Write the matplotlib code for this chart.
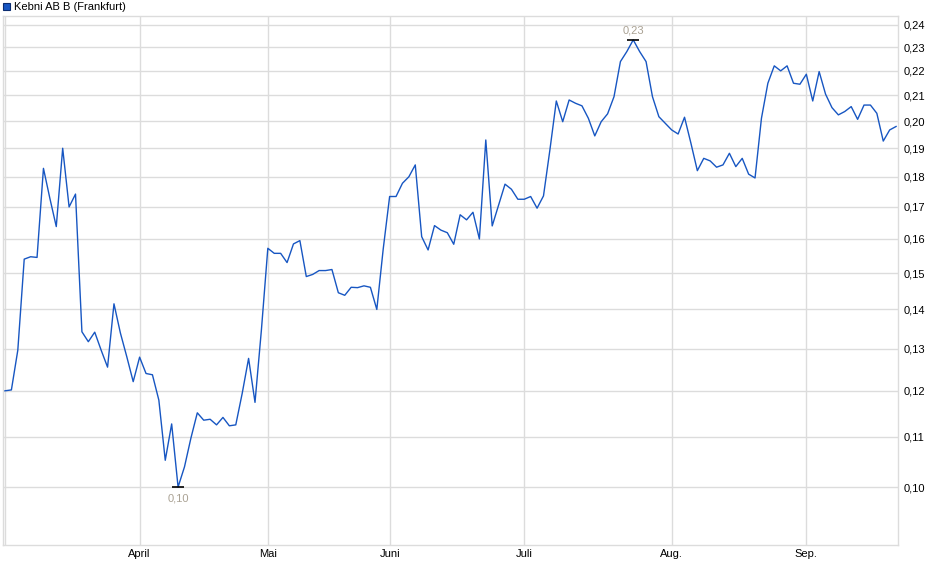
import matplotlib
matplotlib.use("Agg")
import matplotlib.pyplot as plt
from matplotlib.patches import Rectangle
from matplotlib.ticker import FixedLocator, NullLocator, FuncFormatter

plt.rcParams['font.family'] = ['Liberation Sans', 'DejaVu Sans']

# Schlusskurse (EUR), ein Wert pro Handelstag
prices = [
    0.1200, 0.1202, 0.1296, 0.1540, 0.1547, 0.1545, 0.1829, 0.1728, 0.1638, 0.1900,
    0.1700, 0.1742, 0.1342, 0.1317, 0.1341, 0.1296, 0.1255, 0.1415, 0.1339, 0.1280,
    0.1221, 0.1279, 0.1240, 0.1237, 0.1179, 0.1052, 0.1127, 0.1000, 0.1039, 0.1097,
    0.1151, 0.1135, 0.1137, 0.1125, 0.1141, 0.1123, 0.1125, 0.1194, 0.1276, 0.1174,
    0.1347, 0.1572, 0.1557, 0.1557, 0.1530, 0.1585, 0.1595, 0.1490, 0.1496, 0.1507,
    0.1507, 0.1510, 0.1445, 0.1438, 0.1460, 0.1459, 0.1464, 0.1460, 0.1400, 0.1570,
    0.1734, 0.1734, 0.1778, 0.1800, 0.1841, 0.1607, 0.1567, 0.1641, 0.1627, 0.1619,
    0.1584, 0.1675, 0.1659, 0.1683, 0.1600, 0.1930, 0.1640, 0.1706, 0.1775, 0.1758,
    0.1725, 0.1725, 0.1734, 0.1696, 0.1736, 0.1894, 0.2078, 0.1998, 0.2082, 0.2069,
    0.2059, 0.2011, 0.1945, 0.1998, 0.2028, 0.2095, 0.2239, 0.2282, 0.2333, 0.2282,
    0.2239, 0.2095, 0.2017, 0.1992, 0.1967, 0.1952, 0.2015, 0.1918, 0.1821, 0.1864,
    0.1855, 0.1833, 0.1841, 0.1882, 0.1835, 0.1864, 0.1809, 0.1796, 0.2011, 0.2149,
    0.2221, 0.2200, 0.2221, 0.2149, 0.2145, 0.2186, 0.2078, 0.2197, 0.2105, 0.2052,
    0.2024, 0.2037, 0.2056, 0.2007, 0.2062, 0.2062, 0.2030, 0.1926, 0.1967, 0.1980,
]
days = list(range(len(prices)))

# Monatsanfaenge (Index des Handelstags)
month_pos = [21, 41, 60, 81, 104, 125]
month_labels = ['April', 'Mai', 'Juni', 'Juli', 'Aug.', 'Sep.']

y_ticks = [0.10, 0.11, 0.12, 0.13, 0.14, 0.15, 0.16, 0.17, 0.18, 0.19,
           0.20, 0.21, 0.22, 0.23, 0.24]

line_col = '#1756c2'
grid_col = '#dcdcdc'
label_col = '#aaa294'
W, H = 940, 579

fig = plt.figure(figsize=(W / 100, H / 100), dpi=100)
ax = fig.add_axes([3 / W, 34 / H, 895 / W, 529 / H])

ax.plot(days, prices, color=line_col, lw=1.0, zorder=3)

ax.set_yscale('log')
ax.set_ylim(0.0896, 0.2441)
ax.set_xlim(-0.31, 139.3)

ax.yaxis.set_major_locator(FixedLocator(y_ticks))
ax.yaxis.set_minor_locator(NullLocator())
ax.yaxis.set_major_formatter(FuncFormatter(lambda v, p: f'{v:.2f}'.replace('.', ',')))
ax.yaxis.tick_right()
ax.set_xticks(month_pos)
ax.set_xticklabels(month_labels)

ax.tick_params(axis='both', length=0, labelsize=8, colors='black')
ax.tick_params(axis='y', pad=4)
ax.tick_params(axis='x', pad=3)

ax.grid(True, color=grid_col, lw=1.0, zorder=0)
ax.axvline(0, color=grid_col, lw=1.0, zorder=0)
for s in ax.spines.values():
    s.set_color(grid_col)
    s.set_linewidth(1.0)

# Hoch und Tief markieren
i_max = prices.index(max(prices))
i_min = prices.index(min(prices))
for i, dy in [(i_max, 6.5), (i_min, -8)]:
    ax.plot(days[i], prices[i], marker='_', ms=9, mew=1.2, color='black', zorder=4)
    ax.annotate(f'{prices[i]:.2f}'.replace('.', ','), (days[i], prices[i]),
                xytext=(0, dy), textcoords='offset points', ha='center', va='center',
                fontsize=8, color=label_col)

# Legende oben links
fig.add_artist(Rectangle((3 / W, 1 - 10 / H), 7 / W, 7 / H, transform=fig.transFigure,
                         facecolor=line_col, edgecolor='#0b2c70', lw=0.8))
fig.text(14 / W, 1 - 6.5 / H, 'Kebni AB B (Frankfurt)', fontsize=8, va='center', ha='left')

fig.savefig('out.png', dpi=100)
